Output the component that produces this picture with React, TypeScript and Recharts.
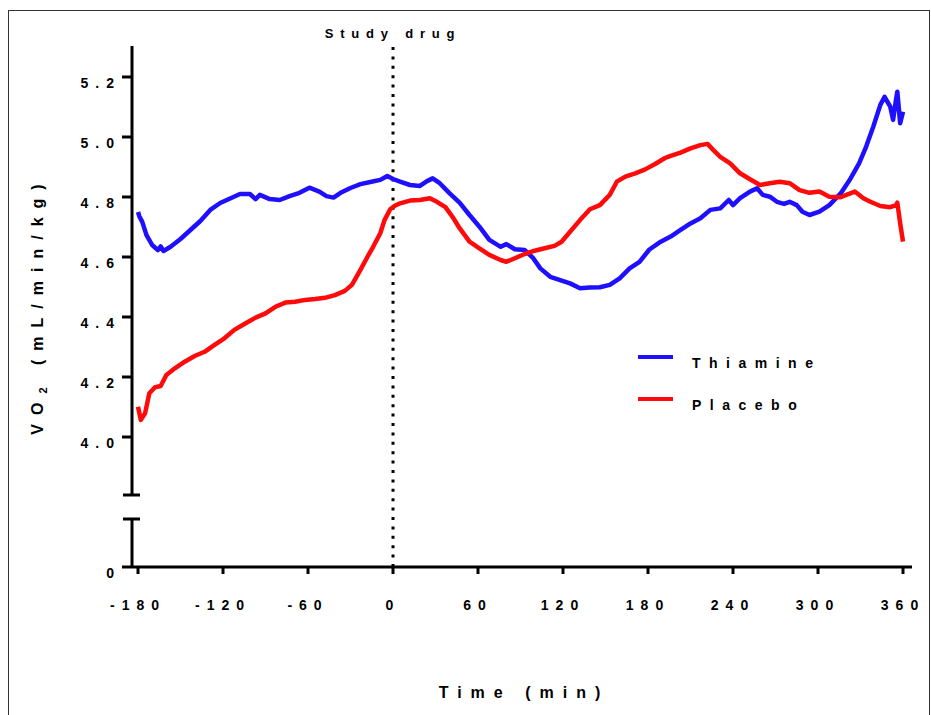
import React from 'react'
import { LineChart, Line, XAxis, YAxis, ReferenceLine, Legend, Label } from 'recharts'

// minutes relative to study drug, VO2 in mL/min/kg
const thiamineTime = [
  -180, -179, -177, -174, -170, -166, -164, -162, -157, -150, -143, -136, -129, -122, -115, -108,
  -101, -97, -94, -87, -80, -73, -66, -59, -52, -47, -42, -37, -30, -23, -16, -9, -4, 0, 5, 12,
  19, 24, 28, 33, 40, 47, 54, 61, 68, 76, 80, 86, 93, 99, 104, 111, 118, 125, 132, 139, 146, 153,
  160, 167, 174, 181, 188, 196, 203, 210, 217, 224, 231, 237, 240, 245, 252, 257, 261, 266, 271,
  276, 280, 285, 289, 294, 301, 308, 316, 323, 329, 334, 339, 344, 347, 351, 353, 355, 356, 358, 360,
]
const thiamineVO2 = [
  4.75, 4.735, 4.717, 4.673, 4.64, 4.623, 4.635, 4.62, 4.634, 4.66, 4.69, 4.72, 4.757, 4.78, 4.795,
  4.81, 4.81, 4.793, 4.807, 4.793, 4.79, 4.803, 4.814, 4.831, 4.818, 4.803, 4.798, 4.814, 4.83,
  4.843, 4.85, 4.857, 4.87, 4.86, 4.851, 4.84, 4.837, 4.853, 4.862, 4.846, 4.812, 4.781, 4.74,
  4.701, 4.657, 4.634, 4.643, 4.626, 4.623, 4.596, 4.562, 4.534, 4.523, 4.512, 4.496, 4.498, 4.499,
  4.507, 4.529, 4.562, 4.584, 4.625, 4.648, 4.668, 4.69, 4.712, 4.729, 4.757, 4.762, 4.79, 4.773,
  4.796, 4.818, 4.829, 4.807, 4.801, 4.784, 4.777, 4.784, 4.773, 4.751, 4.74, 4.751, 4.773, 4.812,
  4.862, 4.912, 4.968, 5.034, 5.107, 5.134, 5.101, 5.057, 5.123, 5.151, 5.046, 5.084,
]
const placeboTime = [
  -180, -178, -175, -172, -168, -164, -160, -154, -147, -140, -133, -126, -119, -112, -104, -97,
  -90, -83, -76, -69, -62, -55, -48, -41, -34, -29, -23, -18, -14, -9, -6, -2, 1, 5, 12, 19, 26,
  31, 37, 42, 47, 54, 61, 68, 76, 80, 86, 93, 100, 107, 114, 119, 125, 132, 139, 146, 153, 158,
  164, 171, 178, 185, 192, 196, 203, 210, 217, 222, 226, 231, 238, 245, 252, 259, 266, 273, 280,
  287, 294, 301, 308, 316, 320, 326, 332, 337, 344, 351, 355, 356, 358, 360,
]
const placeboVO2 = [
  4.101, 4.057, 4.079, 4.146, 4.166, 4.17, 4.207, 4.229, 4.251, 4.27, 4.284, 4.307, 4.329, 4.357,
  4.379, 4.398, 4.412, 4.434, 4.448, 4.451, 4.457, 4.46, 4.464, 4.473, 4.487, 4.507, 4.557, 4.601,
  4.634, 4.679, 4.723, 4.759, 4.77, 4.779, 4.788, 4.79, 4.796, 4.784, 4.766, 4.734, 4.696, 4.651,
  4.629, 4.607, 4.59, 4.584, 4.596, 4.61, 4.621, 4.629, 4.637, 4.651, 4.684, 4.723, 4.759, 4.773,
  4.807, 4.851, 4.868, 4.879, 4.892, 4.91, 4.93, 4.937, 4.948, 4.962, 4.973, 4.977, 4.957, 4.934,
  4.912, 4.879, 4.859, 4.84, 4.846, 4.851, 4.846, 4.823, 4.814, 4.818, 4.801, 4.799, 4.807, 4.818,
  4.796, 4.784, 4.77, 4.766, 4.773, 4.781, 4.712, 4.651,
]
const seriesNames = ['Thiamine', 'Placebo']
const xTicks = [-180, -120, -60, 0, 60, 120, 180, 240, 300, 360]
const yTicks = [4.0, 4.2, 4.4, 4.6, 4.8, 5.0, 5.2]

// broken y axis: the bottom of the plot stands for 0, the upper piece runs 4.0 - 5.3
const Y_ZERO = 3.5667
const BREAK_LOW = 3.7267
const BREAK_HIGH = 3.8067
const Y_MAX = 5.3033
const X_MIN = -184.24
const X_MAX = 366.35
const CAP_LEFT = -190.6
const CAP_RIGHT = -178.6

const thiamine = thiamineTime.map((t, i) => ({ t, v: thiamineVO2[i] }))
const placebo = placeboTime.map((t, i) => ({ t, v: placeboVO2[i] }))

const font = '"Liberation Sans", Arial, sans-serif'

function YTick(props: any) {
  const { x, y, payload } = props
  const label = payload.value < 3.9 ? '0' : payload.value.toFixed(1)
  return (
    <text x={x + 1} y={y} dy={6} textAnchor="end" dominantBaseline="central"
      fontFamily={font} fontWeight={700} fontSize={14} letterSpacing={7} fill="#000">
      {label}
    </text>
  )
}

function XTick(props: any) {
  const { x, y, payload } = props
  return (
    <text x={x} y={y} dy={29} textAnchor="middle" dominantBaseline="central"
      fontFamily={font} fontWeight={700} fontSize={14} letterSpacing={7} fill="#000">
      {payload.value}
    </text>
  )
}

function LegendBox(props: any) {
  const items = [...(props.payload || [])].sort(
    (a: any, b: any) => seriesNames.indexOf(a.value) - seriesNames.indexOf(b.value)
  )
  return (
    <div style={{ position: 'relative', width: 220, height: 80 }}>
      {items.map((p: any, i: number) => (
        <div key={p.value} style={{ position: 'absolute', left: 0, top: i * 42.3, height: 24, display: 'flex', alignItems: 'center' }}>
          <span style={{ display: 'inline-block', width: 35, height: 4, background: p.color }} />
          <span style={{ marginLeft: 19, position: 'relative', top: 6, fontFamily: font, fontWeight: 700, fontSize: 14, letterSpacing: 8.5, color: '#000', whiteSpace: 'nowrap' }}>
            {p.value}
          </span>
        </div>
      ))}
    </div>
  )
}

export default function App() {
  return (
    <div style={{ position: 'fixed', left: 0, top: 0, width: 931, height: 715, background: '#fff', overflow: 'hidden' }}>
      <div style={{ position: 'absolute', left: 8, top: 10, width: 922, height: 710, boxSizing: 'border-box', border: '1.5px solid #333', borderBottom: 'none' }} />
      <div style={{ position: 'absolute', left: 0, top: 0 }}>
        <LineChart width={931} height={715} margin={{ top: 46, right: 19, bottom: 108, left: 72 }}>
          <XAxis dataKey="t" type="number" domain={[X_MIN, X_MAX]} ticks={xTicks} allowDataOverflow
            height={40} tickSize={7} tickMargin={2} tick={<XTick />}
            axisLine={{ stroke: '#000', strokeWidth: 3 }} tickLine={{ stroke: '#000', strokeWidth: 3 }}>
            <Label content={() => (
              <text x={524} y={698} textAnchor="middle" fontFamily={font} fontWeight={700} fontSize={16} letterSpacing={9} fill="#000">
                Time (min)
              </text>
            )} />
          </XAxis>
          <YAxis dataKey="v" type="number" domain={[Y_ZERO, Y_MAX]} ticks={[Y_ZERO, ...yTicks]} allowDataOverflow
            width={60} tickSize={10} tickMargin={2} tick={<YTick />}
            axisLine={false} tickLine={{ stroke: '#000', strokeWidth: 3 }}>
            <Label content={() => (
              <text x={43} y={305} transform="rotate(-90 43 305)" textAnchor="middle" fontFamily={font} fontWeight={700} fontSize={16} letterSpacing={9} fill="#000">
                VO<tspan fontSize={11} dy={4}>2</tspan><tspan dy={-4}> (mL/min/kg)</tspan>
              </text>
            )} />
          </YAxis>
          <ReferenceLine ifOverflow="visible" stroke="#000" strokeWidth={3}
            segment={[{ x: X_MIN, y: BREAK_HIGH }, { x: X_MIN, y: Y_MAX }]} />
          <ReferenceLine ifOverflow="visible" stroke="#000" strokeWidth={3}
            segment={[{ x: X_MIN, y: Y_ZERO }, { x: X_MIN, y: BREAK_LOW }]} />
          <ReferenceLine ifOverflow="visible" stroke="#000" strokeWidth={3}
            segment={[{ x: CAP_LEFT, y: BREAK_HIGH }, { x: CAP_RIGHT, y: BREAK_HIGH }]} />
          <ReferenceLine ifOverflow="visible" stroke="#000" strokeWidth={3}
            segment={[{ x: CAP_LEFT, y: BREAK_LOW }, { x: CAP_RIGHT, y: BREAK_LOW }]} />
          <ReferenceLine x={0} stroke="#000" strokeWidth={3} strokeDasharray="3 6.4"
            label={{ value: 'Study drug', position: 'top', offset: 8, fontFamily: font, fontWeight: 700, fontSize: 13, letterSpacing: 6.8, fill: '#000' }} />
          <Line data={thiamine} dataKey="v" name={seriesNames[0]} type="linear" stroke="#1e0fff" strokeWidth={4.5}
            strokeLinejoin="round" dot={false} isAnimationActive={false} />
          <Line data={placebo} dataKey="v" name={seriesNames[1]} type="linear" stroke="#ff0a0a" strokeWidth={4.5}
            strokeLinejoin="round" dot={false} isAnimationActive={false} />
          <Legend layout="horizontal" verticalAlign="middle" align="center" content={<LegendBox />}
            wrapperStyle={{ left: 638, top: 345, width: 220, height: 80 }} />
        </LineChart>
      </div>
    </div>
  )
}
